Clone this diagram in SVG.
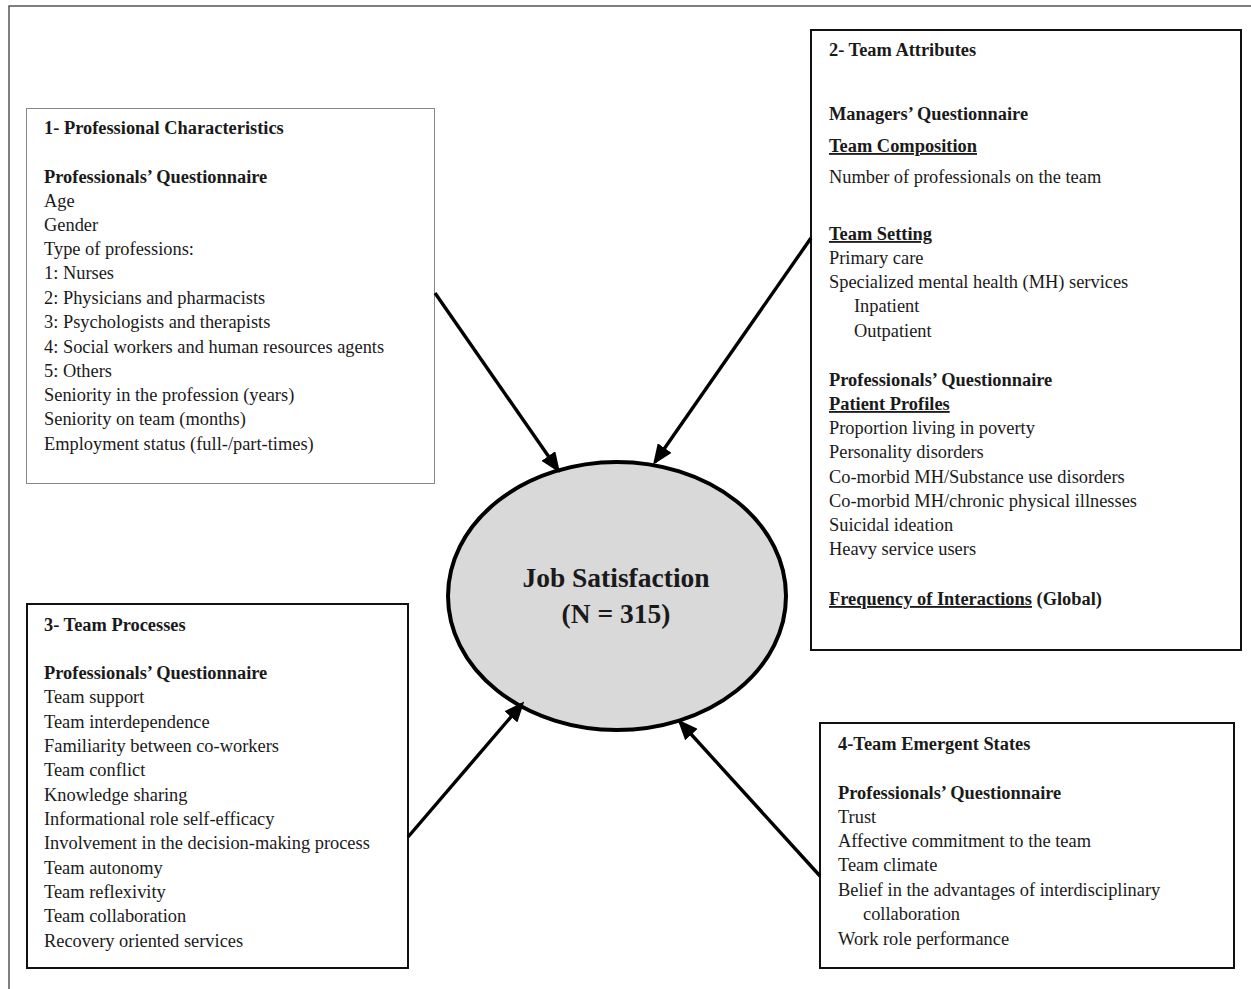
<svg xmlns="http://www.w3.org/2000/svg" width="1251" height="989" viewBox="0 0 1251 989">
<style>
text{font-family:"Liberation Serif","Times New Roman",serif;font-size:18.4px;fill:#1a1a1a}
.b{font-weight:bold}
.u{text-decoration:underline}
.box{fill:#fff;stroke:#111;stroke-width:2}
.conn{stroke:#000;stroke-width:3.4;fill:none}
</style>
<defs>
<marker id="ah" markerWidth="6" markerHeight="5" refX="5" refY="2.5" orient="auto" markerUnits="strokeWidth">
<path d="M0,0 L6,2.5 L0,5 Z" fill="#000"/>
</marker>
</defs>
<rect width="1251" height="989" fill="#fff"/>
<path d="M9,989 V6 H1251" fill="none" stroke="#555" stroke-width="1.5"/>

<g id="node-professional">
<rect x="26.5" y="108.5" width="408" height="375" fill="#fff" stroke="#888" stroke-width="1"/>
<text x="44" y="134" class="b">1- Professional Characteristics</text>
<text x="44" y="183" class="b">Professionals’ Questionnaire</text>
<text x="44" y="207">Age</text>
<text x="44" y="231">Gender</text>
<text x="44" y="255">Type of professions:</text>
<text x="44" y="279">1: Nurses</text>
<text x="44" y="304">2: Physicians and pharmacists</text>
<text x="44" y="328">3: Psychologists and therapists</text>
<text x="44" y="353">4: Social workers and human resources agents</text>
<text x="44" y="377">5: Others</text>
<text x="44" y="401">Seniority in the profession (years)</text>
<text x="44" y="425">Seniority on team (months)</text>
<text x="44" y="450">Employment status (full-/part-times)</text>
</g>

<g id="node-team-attributes">
<rect x="811" y="30" width="430" height="620" class="box"/>
<text x="829" y="56" class="b">2- Team Attributes</text>
<text x="829" y="120" class="b">Managers’ Questionnaire</text>
<text x="829" y="152" class="b u">Team Composition</text>
<text x="829" y="183">Number of professionals on the team</text>
<text x="829" y="240" class="b u">Team Setting</text>
<text x="829" y="264">Primary care</text>
<text x="829" y="288">Specialized mental health (MH) services</text>
<text x="854" y="312">Inpatient</text>
<text x="854" y="337">Outpatient</text>
<text x="829" y="386" class="b">Professionals’ Questionnaire</text>
<text x="829" y="410" class="b u">Patient Profiles</text>
<text x="829" y="434">Proportion living in poverty</text>
<text x="829" y="458">Personality disorders</text>
<text x="829" y="483">Co-morbid MH/Substance use disorders</text>
<text x="829" y="507">Co-morbid MH/chronic physical illnesses</text>
<text x="829" y="531">Suicidal ideation</text>
<text x="829" y="555">Heavy service users</text>
<text x="829" y="605" class="b"><tspan class="u">Frequency of Interactions</tspan> (Global)</text>
</g>

<g id="node-team-processes">
<rect x="27" y="604" width="381" height="364" class="box"/>
<text x="44" y="631" class="b">3- Team Processes</text>
<text x="44" y="679" class="b">Professionals’ Questionnaire</text>
<text x="44" y="703">Team support</text>
<text x="44" y="728">Team interdependence</text>
<text x="44" y="752">Familiarity between co-workers</text>
<text x="44" y="776">Team conflict</text>
<text x="44" y="801">Knowledge sharing</text>
<text x="44" y="825">Informational role self-efficacy</text>
<text x="44" y="849">Involvement in the decision-making process</text>
<text x="44" y="874">Team autonomy</text>
<text x="44" y="898">Team reflexivity</text>
<text x="44" y="922">Team collaboration</text>
<text x="44" y="947">Recovery oriented services</text>
</g>

<g id="node-emergent">
<rect x="820" y="723" width="414" height="245" class="box"/>
<text x="838" y="750" class="b">4-Team Emergent States</text>
<text x="838" y="799" class="b">Professionals’ Questionnaire</text>
<text x="838" y="823">Trust</text>
<text x="838" y="847">Affective commitment to the team</text>
<text x="838" y="871">Team climate</text>
<text x="838" y="896">Belief in the advantages of interdisciplinary</text>
<text x="863" y="920">collaboration</text>
<text x="838" y="945">Work role performance</text>
</g>

<g id="node-job-satisfaction">
<ellipse cx="617" cy="596" rx="169" ry="134" fill="#d9d9d9" stroke="#000" stroke-width="4"/>
<text x="616" y="587" class="b" text-anchor="middle" style="font-size:27.5px">Job Satisfaction</text>
<text x="616" y="623" class="b" text-anchor="middle" style="font-size:27.5px">(N = 315)</text>
</g>

<g id="connectors">
<line x1="435" y1="293" x2="558" y2="470" class="conn" marker-end="url(#ah)"/>
<line x1="811" y1="238" x2="655" y2="462" class="conn" marker-end="url(#ah)"/>
<line x1="408" y1="837" x2="522" y2="704" class="conn" marker-end="url(#ah)"/>
<line x1="820" y1="876" x2="680" y2="722" class="conn" marker-end="url(#ah)"/>
</g>
</svg>
